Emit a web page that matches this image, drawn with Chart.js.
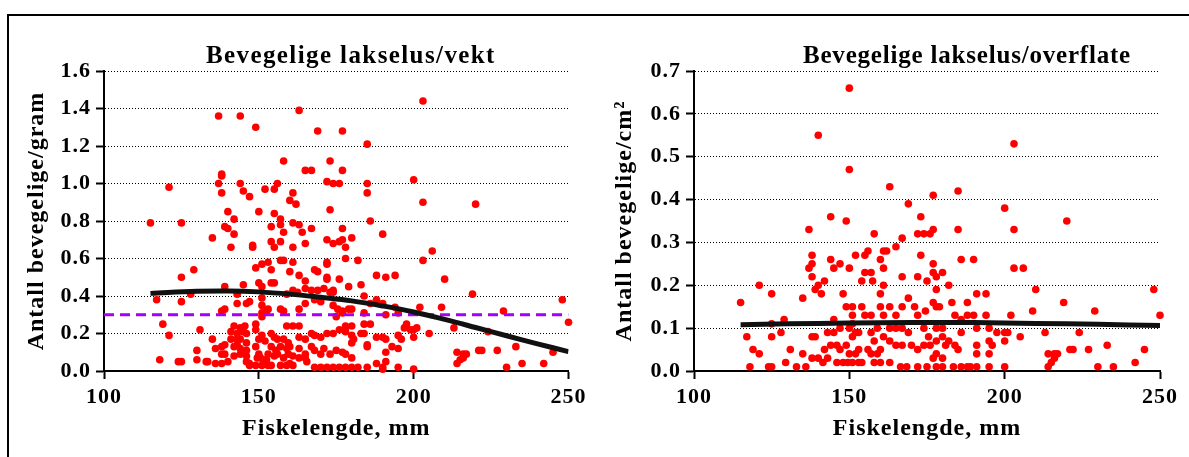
<!DOCTYPE html>
<html>
<head>
<meta charset="utf-8">
<script src="https://cdn.jsdelivr.net/npm/chart.js@4"></script>
<style>
  html, body { margin: 0; padding: 0; background: #fff; overflow: hidden; }
  body { width: 1189px; height: 457px; position: relative; }
  .frame { position: absolute; left: 7px; top: 14px; width: 1300px; height: 600px; border: 2px solid #000; box-sizing: border-box; }
  .panel { position: absolute; top: 0; height: 457px; }
  #panelA { left: 0; width: 590px; }
  #panelB { left: 590px; width: 599px; }
</style>
</head>
<body>
<div class="frame"></div>
<div class="panel" id="panelA"><canvas id="chartA" width="590" height="457"></canvas></div>
<div class="panel" id="panelB"><canvas id="chartB" width="599" height="457"></canvas></div>
<script>
// ── Data ─────────────────────────────────────────────────────────
const xTicks = [100, 150, 200, 250];
const yTicksWeight = [0, 0.2, 0.4, 0.6, 0.8, 1.0, 1.2, 1.4, 1.6];
const yTicksArea = [0, 0.1, 0.2, 0.3, 0.4, 0.5, 0.6, 0.7];

const titleWeight = 'Bevegelige lakselus/vekt';
const titleArea = 'Bevegelige lakselus/overflate';
const xTitle = 'Fiskelengde, mm';
const yTitleWeight = 'Antall bevegelige/gram';
const yTitleArea = 'Antall bevegelige/cm²';

// fish length (mm) and mobile lice per gram
const weightLen = [
  115,125,121,137,144,149,163,169,177,158,167,165,173,177,138,138,137,144,138,145,147,152,155,156,161,160,162,172,174,176,
  173,140,142,140,139,142,135,141,148,148,150,155,154,157,157,158,154,155,157,161,163,161,164,165,167,172,177,177,174,176,
  178,178,149,151,153,154,157,158,161,160,163,165,168,169,172,172,172,172,176,174,174,125,129,125,128,117,119,121,118,124,
  125,130,131,130,133,133.5,136,138,140,139,139,138,143,145,143,146,147,135,138,139,136,138,139,141,142,143,144,145,146,145.5,
  141,143,144,142,143,144,146,142,144,146,146,146,147,149,149,150,151,152,149,150,149.5,150.5,151.5,152.5,147,149,151,153,154,157,
  151,151,152.5,153,151,151,150,151,154,155,157,158,154,155,156,158,159.5,154,155.5,157,159,160,153,155,156,158,159.5,161,
  159,161,163,163,165,167,168,170,172,174,176,178,163,165,167,168,170,171,173,175,177,178,163,165,165.5,168,170,172,174,176,
  178,160,161,159,163,165,168,170,159,161,162.5,165,167,169,171,173,174,175.5,177,179,175,177,
  203,185,185,185,200,203,220,186,190,180,182,206,203,179,183,188,191,194,210,219,248,184,186,188,190,180,184,191,194,195,
  202,209,229,250,178,180,178,184,186,183,184,180,180.6,188,190,191,185,185,180,180,195,196,197.7,197,199,200,201,200,205,213,
  224,193,195,191,191,188,190,190,185,182,180,195,200,214,216,217,214,215,216,221,222,227,233,245,230,235,242
];
const weightVal = [
  0.79,0.79,0.98,1.36,1.36,1.30,1.39,1.28,1.28,1.12,1.07,1.07,1.12,1.07,1.05,1.04,1.00,1.00,0.95,0.96,0.93,0.97,0.97,1.00,0.95,0.91,0.89,1.01,1.00,1.00,
  0.86,0.85,0.81,0.76,0.77,0.73,0.71,0.66,0.67,0.66,0.85,0.84,0.77,0.78,0.81,0.74,0.69,0.66,0.69,0.79,0.78,0.66,0.74,0.68,0.76,0.70,0.76,0.70,0.68,0.69,
  0.66,0.60,0.55,0.57,0.58,0.54,0.59,0.59,0.58,0.53,0.51,0.48,0.54,0.53,0.58,0.57,0.50,0.49,0.49,0.43,0.42,0.50,0.54,0.37,0.41,0.38,0.25,0.19,0.06,0.05,
  0.05,0.11,0.22,0.06,0.05,0.05,0.04,0.04,0.05,0.45,0.33,0.32,0.41,0.46,0.36,0.36,0.37,0.17,0.13,0.14,0.12,0.09,0.09,0.21,0.24,0.20,0.23,0.21,0.20,0.24,
  0.17,0.17,0.17,0.13,0.14,0.12,0.15,0.08,0.09,0.11,0.08,0.05,0.04,0.25,0.22,0.17,0.19,0.16,0.13,0.09,0.07,0.07,0.06,0.06,0.03,0.03,0.03,0.03,0.03,0.03,
  0.39,0.35,0.32,0.33,0.31,0.29,0.47,0.45,0.47,0.47,0.33,0.32,0.20,0.18,0.17,0.17,0.15,0.13,0.11,0.13,0.12,0.13,0.09,0.08,0.09,0.07,0.09,0.08,
  0.24,0.24,0.24,0.18,0.17,0.20,0.19,0.18,0.20,0.20,0.22,0.23,0.12,0.09,0.13,0.11,0.09,0.12,0.09,0.11,0.10,0.09,0.07,0.07,0.05,0.02,0.02,0.02,0.02,0.02,
  0.02,0.04,0.03,0.03,0.33,0.36,0.38,0.37,0.41,0.43,0.42,0.44,0.43,0.43,0.44,0.42,0.35,0.33,0.32,0.33,0.29,0.31,
  1.44,1.21,1.00,0.95,1.02,0.90,0.89,0.80,0.73,0.71,0.59,0.64,0.59,0.45,0.46,0.51,0.50,0.51,0.49,0.41,0.38,0.40,0.36,0.38,0.36,0.33,0.31,0.30,0.34,0.31,
  0.34,0.34,0.32,0.26,0.24,0.24,0.21,0.25,0.25,0.20,0.20,0.19,0.17,0.18,0.18,0.17,0.14,0.13,0.15,0.07,0.19,0.17,0.25,0.23,0.22,0.18,0.23,0.22,0.20,0.23,
  0.21,0.13,0.12,0.10,0.05,0.04,0.02,0.01,0.02,0.02,0.02,0.02,0.01,0.10,0.09,0.09,0.04,0.06,0.07,0.11,0.11,0.11,0.13,0.10,0.02,0.04,0.04
];

// fish length (mm) and mobile lice per cm²
const areaLen = [
  150,140,150,163,177,169,144,149,137,158,167,172,174,176,177,165,173,138,138,137,138,144,147,145,150,152,155,156,161,162,
  160,161,173,177,178,157,157.5,154,155,161,160,167,172,175,121,125,115,135,139,140,142,141,148,129,117,125,119,121,125,128,
  131,118,124,125,129.5,133,136,135,138,139,138,140,141.5,143,142,144,146,147,143,145,147,145,149,151,151,151,154,155,157,150,
  152,153,151,149,150,152,153,146,148,149.5,151,153,154,156,157,159,160,157,158,160,163,161,165,167,169,171,163,165,167,169,
  163,165,167,170,172,174,176,158,160,163,166.5,168.5,172,175,178,172,174.5,178,174,175.5,178,159,161,
  203,185,200,220,185,203,186,190,203,206,177,180,182,178,210,248,191,194,177,183,188,219,179,209,229,184,188,190,194,202,
  250,186,191,195,180,197.5,200,201,205,200,213,224,186,180,178,182,181,184,191,195,196,185,191,195,221,222,227,233,245,214,
  216,217,216,215,242,177,180,178,180,183.5,186,188,189,191,195,200,214,230,235
];
const areaVal = [
  0.66,0.55,0.47,0.43,0.41,0.39,0.36,0.35,0.33,0.32,0.31,0.32,0.32,0.32,0.33,0.29,0.36,0.27,0.25,0.24,0.22,0.26,0.25,0.24,0.24,0.27,0.27,0.28,0.28,0.28,
  0.26,0.24,0.27,0.25,0.22,0.23,0.21,0.21,0.23,0.20,0.18,0.22,0.22,0.21,0.20,0.18,0.16,0.17,0.19,0.20,0.21,0.18,0.18,0.12,0.08,0.08,0.05,0.04,0.11,0.09,
  0.05,0.01,0.01,0.01,0.02,0.01,0.01,0.04,0.08,0.08,0.03,0.03,0.02,0.03,0.05,0.06,0.06,0.05,0.09,0.09,0.10,0.12,0.15,0.15,0.13,0.11,0.15,0.13,0.13,0.10,
  0.09,0.09,0.08,0.06,0.04,0.04,0.05,0.02,0.02,0.02,0.02,0.02,0.02,0.05,0.04,0.04,0.05,0.09,0.07,0.15,0.15,0.13,0.13,0.15,0.17,0.15,0.10,0.10,0.10,0.09,
  0.07,0.06,0.06,0.06,0.05,0.06,0.06,0.02,0.02,0.02,0.01,0.01,0.01,0.01,0.01,0.13,0.14,0.15,0.10,0.08,0.10,0.10,0.08,
  0.53,0.42,0.38,0.35,0.33,0.33,0.26,0.26,0.24,0.24,0.23,0.23,0.20,0.19,0.19,0.19,0.18,0.18,0.16,0.16,0.16,0.16,0.15,0.14,0.14,0.13,0.13,0.13,0.13,0.13,
  0.13,0.12,0.10,0.10,0.10,0.09,0.09,0.09,0.08,0.07,0.09,0.09,0.09,0.08,0.07,0.07,0.06,0.06,0.06,0.07,0.06,0.05,0.04,0.04,0.05,0.05,0.05,0.06,0.05,0.04,
  0.04,0.04,0.03,0.02,0.02,0.03,0.03,0.04,0.01,0.01,0.01,0.01,0.01,0.01,0.01,0.01,0.01,0.01,0.01
];

// fitted curves
const trendWeightX = [115, 130, 140, 150, 160, 170, 180, 190, 200, 210, 220, 230, 240, 250];
const trendWeightY = [0.414, 0.425, 0.427, 0.422, 0.410, 0.393, 0.374, 0.347, 0.315, 0.275, 0.232, 0.188, 0.145, 0.103];
const trendAreaX = [115, 130, 150, 170, 190, 210, 230, 250];
const trendAreaY = [0.108, 0.110, 0.112, 0.113, 0.113, 0.111, 0.109, 0.106];

// reference level (dashed)
const refX = [100, 250];
const refY = [0.3, 0.3];

// ── Chart setup ──────────────────────────────────────────────────
const FONT = '"Liberation Serif", "Times New Roman", serif';
const tickFont = { family: FONT, size: 22, weight: 'bold', lineHeight: 1.2 };
const axisTitleFont = { family: FONT, size: 24, weight: 'bold', lineHeight: 1 };

const toPoints = (xs, ys) => xs.map((x, i) => ({ x, y: ys[i] }));

// spaced letters, as in the original export
const letterSpacing = {
  id: 'letterSpacing',
  beforeDraw(chart) { chart.ctx.letterSpacing = '1px'; }
};

const panelTitle = {
  id: 'panelTitle',
  afterDraw(chart, args, opts) {
    const { ctx, chartArea } = chart;
    ctx.save();
    ctx.font = `bold 25px ${FONT}`;
    ctx.letterSpacing = opts.spacing + 'px';
    ctx.fillStyle = '#000';
    ctx.textAlign = 'left';
    ctx.textBaseline = 'alphabetic';
    ctx.fillText(opts.text, chartArea.left + opts.dx, 63);
    ctx.restore();
  }
};

function makePanel(canvasId, cfg) {
  const datasets = [
    {
      data: toPoints(cfg.trendX, cfg.trendY),
      showLine: true,
      borderColor: '#111',
      borderWidth: 5,
      pointRadius: 0,
      tension: 0.4,
      order: 1,
    },
    {
      data: toPoints(cfg.xs, cfg.ys),
      backgroundColor: '#ff0000',
      borderWidth: 0,
      pointRadius: 3.8,
      clip: false,
      order: 3,
    }
  ];
  if (cfg.ref) {
    datasets.push({
      data: toPoints(refX, refY),
      showLine: true,
      borderColor: '#a400f4',
      borderWidth: 3,
      borderDash: [10, 6],
      pointRadius: 0,
      order: 2,
    });
  }

  return new Chart(document.getElementById(canvasId), {
    type: 'scatter',
    data: { datasets },
    plugins: [letterSpacing, panelTitle],
    options: {
      responsive: false,
      animation: false,
      events: [],
      layout: { padding: { top: 71, right: cfg.padRight, bottom: 0, left: 0 } },
      plugins: {
        legend: { display: false },
        tooltip: { enabled: false },
        panelTitle: { text: cfg.title, dx: cfg.titleDx, spacing: cfg.titleSpacing },
      },
      scales: {
        x: {
          type: 'linear',
          min: 100,
          max: 250,
          afterBuildTicks: (s) => { s.ticks = xTicks.map(v => ({ value: v })); },
          afterFit: (s) => { s.height = 86; },
          grid: { drawOnChartArea: false, tickLength: 8, tickWidth: 2, tickColor: '#000', tickBorderDash: [] },
          border: { color: '#000', width: 2 },
          ticks: { color: '#000', font: tickFont, padding: 5, maxRotation: 0, autoSkip: false },
          title: { display: true, text: xTitle, color: '#000', font: axisTitleFont, padding: { top: 0, bottom: 16 } }
        },
        y: {
          type: 'linear',
          min: 0,
          max: cfg.yMax,
          afterBuildTicks: (s) => { s.ticks = cfg.yTicks.map(v => ({ value: v })); },
          afterFit: (s) => { s.width = 104; },
          grid: { color: '#000', lineWidth: 1, tickLength: 8, tickWidth: 2, tickColor: '#000', tickBorderDash: [] },
          border: { color: '#000', width: 2, dash: [1, 2] },
          ticks: { color: '#000', font: tickFont, padding: 5, callback: (v) => v.toFixed(1) },
          title: { display: true, text: cfg.yTitle, color: '#000', font: axisTitleFont, padding: { top: cfg.yTitlePad, bottom: 0 } }
        }
      }
    }
  });
}

makePanel('chartA', {
  xs: weightLen, ys: weightVal,
  trendX: trendWeightX, trendY: trendWeightY,
  ref: true,
  yMax: 1.6, yTicks: yTicksWeight,
  title: titleWeight, titleDx: 102, titleSpacing: 1.4,
  yTitle: yTitleWeight, yTitlePad: 25,
  padRight: 21,
});

makePanel('chartB', {
  xs: areaLen, ys: areaVal,
  trendX: trendAreaX, trendY: trendAreaY,
  ref: false,
  yMax: 0.7, yTicks: yTicksArea,
  title: titleArea, titleDx: 109, titleSpacing: 0.8,
  yTitle: yTitleArea, yTitlePad: 23,
  padRight: 29,
});
</script>
</body>
</html>
